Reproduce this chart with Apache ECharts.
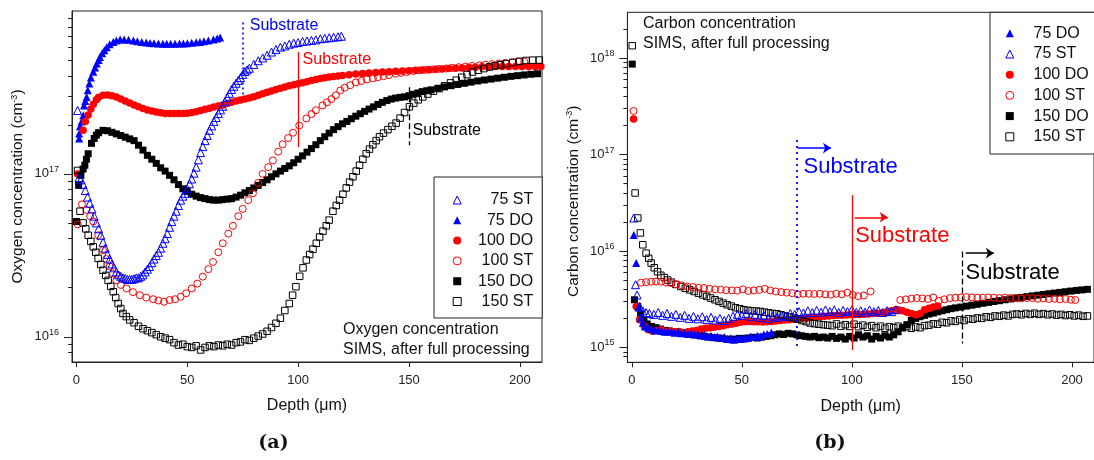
<!DOCTYPE html>
<html><head><meta charset="utf-8">
<script src="https://cdn.jsdelivr.net/npm/echarts@6/dist/echarts.min.js"></script>
<style>html,body{margin:0;padding:0;background:#fff}#c{width:1094px;height:460px}</style>
</head><body><div id="c"></div>
<script>
// ---------- tick values ----------
const xTicks = [0, 50, 100, 150, 200];
const yMajorA = [1e16, 1e17, 1e18];
const yMinorA = [8e15, 9e15, 2e16, 3e16, 4e16, 5e16, 6e16, 7e16, 8e16, 9e16, 2e17, 3e17, 4e17, 5e17, 6e17, 7e17, 8e17, 9e17];
const yMajorB = [1e15, 1e16, 1e17, 1e18];
const yMinorB = [8e14, 9e14, 2e15, 3e15, 4e15, 5e15, 6e15, 7e15, 8e15, 9e15, 2e16, 3e16, 4e16, 5e16, 6e16, 7e16, 8e16, 9e16, 2e17, 3e17, 4e17, 5e17, 6e17, 7e17, 8e17, 9e17, 2e18];
const legendA = ['75 ST', '75 DO', '100 DO', '100 ST', '150 DO', '150 ST'];
const legendB = ['75 DO', '75 ST', '100 DO', '100 ST', '150 DO', '150 ST'];

// ---------- (a) Oxygen: [depth um, concentration cm^-3] ----------
const oxy75DO = [[1.2,1.65e17],[1.2,1.77e17],[1.6,1.96e17],[2.3,2.1e17],[3.1,2.29e17],[3.4,2.63e17],[4,2.8e17],[4.6,2.97e17],[5.1,3.26e17],[5.8,3.59e17],[6.5,3.9e17],[7.6,4.23e17],[8.4,4.5e17],[9.2,4.76e17],[10,5.0e17],[10.6,5.22e17],[11.6,5.5e17],[12.6,5.75e17],[13.7,6.0e17],[15,6.25e17],[16.6,6.46e17],[18,6.58e17],[19.7,6.68e17],[21.5,6.68e17],[23.5,6.65e17],[25.7,6.6e17],[27.5,6.52e17],[29.5,6.45e17],[31.5,6.4e17],[33.2,6.36e17],[35,6.33e17],[37,6.31e17],[39,6.3e17],[40.7,6.3e17],[42.5,6.3e17],[44.5,6.3e17],[46.5,6.31e17],[48.2,6.32e17],[50,6.35e17],[52,6.38e17],[54,6.42e17],[55.7,6.46e17],[57.5,6.52e17],[59.5,6.6e17],[61.8,6.68e17],[63.5,6.78e17],[64.8,6.87e17]];
const oxy75ST = [[0.5,2.45e17],[1.2,9.5e16],[2,9.2e16],[3,8.6e16],[4,7.9e16],[5,7.2e16],[6,6.6e16],[7,6.1e16],[8,5.5e16],[9,5.0e16],[10,4.6e16],[11,4.2e16],[12,3.8e16],[13,3.5e16],[14,3.2e16],[15,3.0e16],[16,2.8e16],[17,2.65e16],[18,2.5e16],[19,2.4e16],[20,2.35e16],[21,2.3e16],[22,2.28e16],[23,2.25e16],[24,2.25e16],[25,2.25e16],[26,2.27e16],[27,2.3e16],[28,2.3e16],[29,2.35e16],[30,2.4e16],[31,2.5e16],[32,2.6e16],[33,2.7e16],[34,2.85e16],[35,3.0e16],[36,3.15e16],[37,3.3e16],[38,3.5e16],[39,3.75e16],[40,4.0e16],[41,4.3e16],[42,4.7e16],[43,5.1e16],[44,5.5e16],[45,5.9e16],[46,6.4e16],[47,6.9e16],[48,7.3e16],[49,7.6e16],[50,8.1e16],[51,8.7e16],[52,9.3e16],[53,1.01e17],[54,1.1e17],[55,1.22e17],[56,1.35e17],[57,1.47e17],[58,1.6e17],[59,1.72e17],[60,1.85e17],[61,1.97e17],[62,2.1e17],[63,2.22e17],[64,2.35e17],[65,2.47e17],[66,2.6e17],[67,2.78e17],[68,2.95e17],[69,3.12e17],[70,3.3e17],[71,3.45e17],[72,3.6e17],[73,3.75e17],[74,3.9e17],[75,4.08e17],[76,4.25e17],[77,4.35e17],[78,4.45e17],[80,4.7e17],[82,4.95e17],[84,5.15e17],[86,5.35e17],[88,5.6e17],[90,5.8e17],[92,6.0e17],[94,6.1e17],[96,6.25e17],[98,6.35e17],[100,6.4e17],[102,6.5e17],[104,6.55e17],[106,6.6e17],[108,6.65e17],[110,6.75e17],[112,6.8e17],[114,6.85e17],[116,6.9e17],[118,6.95e17],[119.5,7.0e17]];
const oxy100DO = [[0.5,1.0e17],[3,1.85e17],[4,2.1e17],[5.3,2.3e17],[6.5,2.5e17],[7.6,2.68e17],[9,2.85e17],[10,2.95e17],[12,3.04e17],[14,3.05e17],[16,3.02e17],[18,2.96e17],[20,2.88e17],[22,2.8e17],[24,2.72e17],[26,2.65e17],[28,2.58e17],[30,2.52e17],[32,2.47e17],[34,2.43e17],[36,2.4e17],[38,2.37e17],[40,2.35e17],[42,2.35e17],[44,2.35e17],[46,2.35e17],[48,2.35e17],[50,2.36e17],[52,2.38e17],[54,2.41e17],[56,2.45e17],[58,2.49e17],[60,2.53e17],[62,2.57e17],[64,2.61e17],[66,2.65e17],[68,2.7e17],[70,2.75e17],[72,2.8e17],[74,2.84e17],[76,2.88e17],[78,2.92e17],[80,2.98e17],[82,3.04e17],[84,3.1e17],[86,3.17e17],[88,3.23e17],[90,3.3e17],[92,3.36e17],[94,3.42e17],[96,3.48e17],[98,3.53e17],[100,3.58e17],[102,3.63e17],[104,3.68e17],[106,3.74e17],[108,3.8e17],[110,3.85e17],[112,3.89e17],[114,3.93e17],[116,3.96e17],[118,3.99e17],[120,4.02e17],[123,4.06e17],[126,4.1e17],[129,4.13e17],[132,4.16e17],[135,4.19e17],[138,4.22e17],[141,4.24e17],[144,4.26e17],[147,4.28e17],[150,4.3e17],[153,4.32e17],[156,4.34e17],[159,4.36e17],[162,4.39e17],[165,4.41e17],[168,4.43e17],[171,4.45e17],[174,4.47e17],[177,4.5e17],[180,4.52e17],[183,4.54e17],[186,4.55e17],[189,4.56e17],[192,4.56e17],[195,4.57e17],[198,4.57e17],[201,4.57e17],[204,4.57e17],[207,4.57e17],[209.5,4.57e17]];
const oxy100ST = [[0.6,4.9e16],[2.5,6.5e16],[4.6,6.0e16],[6.2,5.5e16],[7.6,5.1e16],[9.8,4.2e16],[12,3.4e16],[13.5,3.0e16],[15,2.7e16],[16.5,2.45e16],[18,2.22e16],[20,2.08e16],[22.6,1.98e16],[25.5,1.88e16],[28.6,1.8e16],[31.5,1.74e16],[34.6,1.7e16],[37,1.67e16],[39.5,1.64e16],[42,1.68e16],[44.5,1.7e16],[47,1.76e16],[49.5,1.85e16],[52,1.98e16],[54.5,2.12e16],[57,2.34e16],[59.5,2.6e16],[61.6,2.88e16],[64,3.3e16],[66,3.75e16],[68.5,4.3e16],[70.6,4.8e16],[73,5.5e16],[75,6.1e16],[77.5,6.9e16],[79.6,7.6e16],[82,8.8e16],[84,1.0e17],[86.5,1.1e17],[88.6,1.21e17],[91,1.37e17],[93,1.52e17],[95.5,1.66e17],[97.7,1.79e17],[100.5,1.98e17],[103.7,2.19e17],[106,2.33e17],[108,2.46e17],[111,2.63e17],[113,2.75e17],[115,2.88e17],[117,3.04e17],[119,3.25e17],[121,3.38e17],[123.5,3.5e17],[126,3.64e17],[128.5,3.72e17],[131,3.8e17],[133.7,3.86e17],[136,3.92e17],[138.5,3.98e17],[141,4.04e17],[144,4.12e17],[146.5,4.17e17],[149,4.22e17],[152,4.28e17],[154.7,4.32e17],[157.5,4.35e17],[160.5,4.38e17],[163.5,4.41e17],[166.8,4.44e17],[169.5,4.48e17],[172.5,4.52e17],[175.5,4.56e17],[178.5,4.6e17],[181.8,4.64e17],[184.5,4.68e17],[187.5,4.72e17],[190.5,4.76e17],[193.5,4.8e17],[196.8,4.85e17],[199.5,4.88e17],[202,4.9e17]];
const oxy150DO = [[0,5.1e16],[1,8.5e16],[2,9.8e16],[3,1.07e17],[3.8,1.13e17],[4.5,1.23e17],[5.3,1.33e17],[6.8,1.54e17],[8,1.65e17],[9,1.73e17],[10,1.79e17],[12,1.85e17],[14,1.84e17],[16,1.8e17],[18,1.76e17],[20,1.72e17],[22,1.68e17],[24,1.64e17],[26,1.6e17],[28,1.5e17],[30,1.4e17],[32,1.3e17],[34,1.23e17],[36,1.16e17],[38,1.09e17],[40,1.04e17],[42,9.8e16],[44,9.2e16],[46,8.6e16],[48,8.1e16],[50,7.8e16],[52,7.5e16],[54,7.3e16],[56,7.15e16],[58,7.05e16],[60,6.95e16],[62,6.9e16],[64,6.9e16],[66,6.95e16],[68,7.0e16],[70,7.05e16],[72,7.2e16],[74,7.4e16],[76,7.65e16],[78,7.9e16],[80,8.2e16],[82,8.5e16],[84,8.85e16],[86,9.2e16],[88,9.6e16],[90,1.0e17],[92,1.04e17],[94,1.08e17],[96,1.12e17],[98,1.17e17],[100,1.23e17],[102,1.29e17],[104,1.36e17],[106,1.43e17],[108,1.51e17],[110,1.6e17],[112,1.69e17],[114,1.78e17],[116,1.87e17],[118,1.95e17],[120,2.03e17],[122,2.1e17],[124,2.18e17],[126,2.26e17],[128,2.34e17],[130,2.42e17],[132,2.5e17],[134,2.58e17],[136,2.67e17],[138,2.75e17],[140,2.82e17],[142,2.88e17],[144,2.92e17],[146,2.95e17],[148,2.97e17],[150,3.02e17],[152,3.08e17],[154,3.14e17],[156,3.2e17],[158,3.24e17],[160,3.28e17],[163,3.35e17],[166,3.42e17],[169,3.48e17],[172,3.54e17],[175,3.6e17],[178,3.66e17],[181,3.72e17],[184,3.77e17],[187,3.82e17],[190,3.87e17],[193,3.92e17],[196,3.97e17],[199,4.01e17],[202,4.05e17],[205,4.09e17],[208,4.12e17]];
const oxy150ST = [[0.5,1.05e17],[1.6,5.9e16],[3,5.0e16],[4.2,4.6e16],[5.3,4.2e16],[6.5,3.85e16],[7.6,3.57e16],[8.7,3.3e16],[9.8,3.03e16],[11,2.78e16],[12,2.56e16],[13.2,2.38e16],[14.3,2.22e16],[15.5,2.04e16],[16.6,1.89e16],[17.7,1.74e16],[18.8,1.6e16],[20,1.49e16],[21,1.39e16],[22.5,1.33e16],[24,1.27e16],[26,1.22e16],[28,1.16e16],[30,1.12e16],[32,1.09e16],[34,1.06e16],[36,1.03e16],[38,1.0e16],[40,9.8e15],[42,9.6e15],[44,9.2e15],[46,8.9e15],[48,9.0e15],[50,8.7e15],[52,8.6e15],[54,8.8e15],[56,8.3e15],[58,8.6e15],[60,8.8e15],[62,8.7e15],[64,8.9e15],[66,8.8e15],[68,9.0e15],[70,8.9e15],[72,9.2e15],[74,9.3e15],[76,9.6e15],[78,9.5e15],[80,9.8e15],[82,1.01e16],[84,1.04e16],[86,1.08e16],[88,1.14e16],[90,1.21e16],[92,1.3e16],[94,1.45e16],[96,1.6e16],[97.5,1.8e16],[99,2.03e16],[100.7,2.35e16],[102.2,2.65e16],[103.7,2.96e16],[105.2,3.2e16],[106.7,3.45e16],[108.2,3.75e16],[109.7,4.1e16],[111.2,4.45e16],[112.7,4.8e16],[114,5.2e16],[115.7,5.9e16],[117.2,6.4e16],[118.7,6.9e16],[120.2,7.5e16],[121.7,8.2e16],[123.2,8.9e16],[124.7,9.6e16],[126.2,1.04e17],[127.7,1.13e17],[129.2,1.23e17],[130.7,1.33e17],[132.2,1.42e17],[133.7,1.51e17],[135.2,1.6e17],[136.7,1.69e17],[138.5,1.78e17],[140.5,1.87e17],[142.3,1.96e17],[144.2,2.05e17],[146,2.2e17],[148,2.38e17],[150.2,2.58e17],[152.2,2.72e17],[154.2,2.85e17],[156.2,2.97e17],[158.5,3.09e17],[161,3.22e17],[163.7,3.34e17],[166,3.47e17],[168.7,3.62e17],[171.3,3.76e17],[173.8,3.92e17],[176.2,4.07e17],[178.7,4.22e17],[181.2,4.33e17],[183.8,4.43e17],[186.3,4.53e17],[188.8,4.61e17],[191.3,4.68e17],[193.8,4.75e17],[196.8,4.83e17],[199.8,4.91e17],[202.8,4.97e17],[205.8,4.99e17],[208.8,5.0e17]];

// ---------- (b) Carbon: [depth um, concentration cm^-3] ----------
const car75DO = [[0.9,1.47e16],[2,7.5e15],[3,2.6e15],[4,2.0e15],[5,1.8e15],[6,1.65e15],[7.5,1.6e15],[9,1.55e15],[10.5,1.5e15],[12,1.52e15],[13.5,1.48e15],[15,1.45e15],[16.5,1.47e15],[18,1.45e15],[19.5,1.42e15],[21,1.44e15],[22.5,1.4e15],[24,1.42e15],[25.5,1.38e15],[27,1.4e15],[28.5,1.36e15],[30,1.38e15],[31.5,1.33e15],[33,1.35e15],[34.5,1.3e15],[36,1.32e15],[37.5,1.28e15],[39,1.3e15],[40.5,1.26e15],[42,1.28e15],[43.5,1.22e15],[45,1.25e15],[46.5,1.2e15],[48,1.24e15],[49.5,1.22e15],[51,1.26e15],[52.5,1.25e15],[54,1.3e15],[55.5,1.28e15],[57,1.32e15],[58.5,1.3e15],[60,1.36e15],[61.5,1.38e15],[63.4,1.43e15]];
const car75ST = [[0.9,2.2e16],[1.7,4.47e15],[2.4,3.5e15],[3.5,2.66e15],[5,2.4e15],[6.5,2.3e15],[8,2.25e15],[10,2.2e15],[12,2.3e15],[14,2.15e15],[16,2.25e15],[18,2.1e15],[20,2.2e15],[22,2.05e15],[24,2.15e15],[26,2.0e15],[28,2.1e15],[30,1.98e15],[32,2.08e15],[34,1.95e15],[36,2.05e15],[38,1.92e15],[40,2.0e15],[42,1.9e15],[44,2.0e15],[46,2.1e15],[48,2.2e15],[50,2.15e15],[52,2.25e15],[54,2.1e15],[56,2.2e15],[58,2.05e15],[60,2.15e15],[62,2.0e15],[64,2.1e15],[66,2.05e15],[68,2.15e15],[70,2.1e15],[72,2.25e15],[74,2.2e15],[76,2.35e15],[78,2.28e15],[80,2.4e15],[82,2.3e15],[84,2.42e15],[86,2.32e15],[88,2.45e15],[90,2.35e15],[92,2.45e15],[94,2.3e15],[96,2.42e15],[98,2.35e15],[100,2.45e15],[102,2.3e15],[104,2.4e15],[106,2.32e15],[108,2.45e15],[110,2.35e15],[112,2.42e15],[114,2.3e15],[116,2.4e15],[118,2.35e15],[120,2.46e15]];
const car100DO = [[0.8,2.35e17],[2,2.66e15],[3.5,1.94e15],[5.7,1.65e15],[7.5,1.52e15],[9.5,1.47e15],[11.5,1.5e15],[13.5,1.52e15],[15.5,1.45e15],[17.5,1.48e15],[19.5,1.44e15],[21.5,1.46e15],[23.5,1.42e15],[25.5,1.45e15],[27.5,1.48e15],[29.5,1.5e15],[31.5,1.55e15],[33.5,1.58e15],[35.5,1.6e15],[37.5,1.62e15],[39.5,1.65e15],[41.5,1.68e15],[43.5,1.72e15],[45.5,1.75e15],[47.5,1.78e15],[49.5,1.82e15],[51.5,1.85e15],[53.5,1.86e15],[55.5,1.85e15],[57.5,1.84e15],[59.5,1.83e15],[61.5,1.85e15],[63.5,1.86e15],[65.5,1.88e15],[67.5,1.9e15],[69.5,1.92e15],[71.5,1.94e15],[73.5,1.96e15],[75.5,1.98e15],[77.5,2.0e15],[79.5,2.02e15],[81.5,2.04e15],[83.5,2.06e15],[85.5,2.08e15],[87.5,2.1e15],[89.5,2.12e15],[91.5,2.14e15],[93.5,2.15e15],[95.5,2.16e15],[97.5,2.17e15],[99.5,2.18e15],[101.5,2.19e15],[103.5,2.2e15],[105.5,2.21e15],[107.5,2.22e15],[109.5,2.24e15],[111.5,2.26e15],[113.5,2.28e15],[115.5,2.32e15],[117.5,2.38e15],[119.5,2.44e15],[121,2.46e15],[123,2.4e15],[125,2.32e15],[127,2.25e15],[129,2.18e15],[131,2.25e15],[133,2.45e15],[135,2.55e15],[137,2.62e15],[139,2.68e15]];
const car100ST = [[0.8,2.84e17],[4.2,4.7e15],[6.5,4.75e15],[8.8,4.8e15],[11,4.82e15],[13.3,4.8e15],[15.5,4.72e15],[17.8,4.65e15],[20,4.52e15],[22.5,4.4e15],[25.3,4.28e15],[27.8,4.22e15],[30.3,4.15e15],[32.8,4.13e15],[35.3,4.05e15],[37.8,4.0e15],[40.4,3.97e15],[42.9,3.92e15],[45.4,3.9e15],[47.9,3.88e15],[50.4,4.0e15],[52.9,3.85e15],[55.4,3.9e15],[57.9,3.95e15],[60.4,4.05e15],[62.9,3.9e15],[65.4,3.8e15],[67.9,3.75e15],[70.4,3.7e15],[72.9,3.65e15],[75.4,3.55e15],[77.9,3.6e15],[80.4,3.6e15],[82.9,3.58e15],[85.4,3.6e15],[87.9,3.55e15],[90.4,3.52e15],[92.9,3.6e15],[95.4,3.55e15],[97.9,3.7e15],[100.4,3.5e15],[102.9,3.4e15],[105.4,3.45e15],[108.5,3.8e15],[122,3.1e15],[124.5,3.15e15],[127,3.2e15],[129.5,3.25e15],[132,3.22e15],[134.5,3.18e15],[137,3.3e15],[139.5,3.05e15],[142,3.15e15],[144.5,3.25e15],[147,3.28e15],[149.5,3.3e15],[152,3.33e15],[154.5,3.3e15],[157,3.28e15],[159.5,3.28e15],[162,3.3e15],[164.5,3.27e15],[167,3.25e15],[169.5,3.28e15],[172,3.25e15],[174.5,3.27e15],[177,3.22e15],[179.5,3.25e15],[182,3.25e15],[184.5,3.2e15],[187,3.22e15],[189.5,3.18e15],[192,3.2e15],[194.5,3.15e15],[197,3.18e15],[199.5,3.12e15],[201.5,3.1e15]];
const car150DO = [[0.2,8.7e17],[1.2,3.12e15],[2.7,2.66e15],[4,2.2e15],[5.5,1.9e15],[7,1.75e15],[9,1.65e15],[11,1.6e15],[13,1.55e15],[15,1.5e15],[17,1.48e15],[19,1.45e15],[21,1.42e15],[23,1.4e15],[25,1.38e15],[27,1.36e15],[29,1.35e15],[31,1.33e15],[33,1.3e15],[35,1.28e15],[37,1.26e15],[39,1.25e15],[41,1.24e15],[43,1.22e15],[45,1.2e15],[47,1.22e15],[49,1.24e15],[51,1.22e15],[53,1.25e15],[55,1.27e15],[57,1.25e15],[59,1.28e15],[61,1.3e15],[63,1.32e15],[65,1.35e15],[67,1.38e15],[69,1.36e15],[71,1.4e15],[73,1.38e15],[75,1.35e15],[77,1.32e15],[79,1.3e15],[81,1.28e15],[83,1.3e15],[85,1.26e15],[87,1.28e15],[89,1.25e15],[91,1.3e15],[93,1.24e15],[95,1.28e15],[97,1.22e15],[99,1.3e15],[101,1.25e15],[103,1.35e15],[105,1.28e15],[107,1.32e15],[109,1.22e15],[111,1.3e15],[113,1.25e15],[115,1.32e15],[117,1.28e15],[119,1.35e15],[121,1.45e15],[123,1.6e15],[125,1.72e15],[127,1.9e15],[129,2.0e15],[131,2.08e15],[133,2.15e15],[135,2.22e15],[137,2.27e15],[139,2.34e15],[141,2.4e15],[143,2.46e15],[145,2.52e15],[147,2.57e15],[149.5,2.62e15],[152,2.68e15],[154.5,2.74e15],[157,2.8e15],[159.5,2.87e15],[162,2.93e15],[164.5,2.99e15],[167,3.05e15],[169.5,3.12e15],[172,3.18e15],[174.5,3.24e15],[177,3.3e15],[179.5,3.36e15],[182,3.42e15],[184.5,3.48e15],[187,3.54e15],[189.5,3.6e15],[192,3.66e15],[194.5,3.72e15],[197,3.78e15],[199.5,3.84e15],[202,3.9e15],[204.5,3.95e15],[207,4.0e15]];
const car150ST = [[0.2,1.35e18],[1.5,4.0e16],[2.7,2.2e16],[3.9,1.54e16],[5,1.16e16],[6.5,9.5e15],[7.7,8.4e15],[8.8,7.5e15],[10.2,6.7e15],[11.7,6.1e15],[13.2,5.6e15],[14.8,5.3e15],[16.3,5.0e15],[18,4.75e15],[20,4.5e15],[22.3,4.28e15],[24.3,4.1e15],[26.3,3.95e15],[28.3,3.8e15],[30.3,3.65e15],[32.3,3.5e15],[34,3.38e15],[35.8,3.25e15],[37.8,3.12e15],[39.6,3.0e15],[41.5,2.88e15],[43.3,2.77e15],[45.2,2.68e15],[47.1,2.58e15],[49,2.52e15],[50.9,2.46e15],[52.8,2.42e15],[54.7,2.4e15],[56.6,2.38e15],[58.4,2.36e15],[60.3,2.32e15],[62.2,2.28e15],[64,2.25e15],[65.9,2.23e15],[67.8,2.18e15],[69.7,2.12e15],[71.6,2.07e15],[73.5,2.02e15],[75.4,1.96e15],[77.3,1.9e15],[79.2,1.85e15],[81,1.79e15],[83,1.76e15],[85,1.74e15],[87,1.72e15],[89,1.7e15],[91,1.68e15],[93,1.75e15],[95,1.66e15],[97,1.72e15],[99,1.65e15],[101,1.74e15],[103,1.64e15],[105,1.7e15],[107,1.62e15],[109,1.68e15],[111,1.6e15],[113,1.66e15],[115,1.58e15],[117,1.64e15],[119,1.6e15],[121,1.66e15],[123,1.6e15],[125,1.64e15],[127,1.58e15],[129,1.63e15],[131,1.6e15],[133,1.68e15],[135,1.7e15],[137,1.76e15],[139,1.74e15],[141,1.82e15],[143,1.8e15],[145,1.88e15],[147,1.86e15],[149,1.94e15],[151,1.9e15],[153,1.98e15],[155,1.96e15],[157,2.02e15],[159,2.0e15],[161,2.08e15],[163,2.05e15],[165,2.12e15],[167,2.1e15],[169,2.16e15],[171,2.12e15],[173,2.2e15],[175,2.22e15],[177,2.18e15],[179,2.25e15],[181,2.2e15],[183,2.26e15],[185,2.2e15],[187,2.24e15],[189,2.18e15],[191,2.22e15],[193,2.16e15],[195,2.2e15],[197,2.14e15],[199,2.18e15],[201,2.12e15],[203,2.16e15],[205,2.1e15],[207,2.12e15]];

// ---------- annotation anchors (data coordinates) ----------
const subLinesA = [[75, 8.5e17, 2.95e17], [100, 5.6e17, 1.46e17], [150, 3.4e17, 1.5e17]];
const subTextA = [[78.2, 8.17e17], [102, 5.06e17], [151.6, 1.85e17]];
const subLinesB = [[75, 1.42e17, 9.4e14], [100, 3.8e16, 9.4e14], [150, 9.9e15, 1.1e15]];
const subArrowsB = [[75.3, 90.5, 1.17e17], [101.3, 116.3, 2.24e16], [151.7, 164.5, 9.5e15]];
const subTextB = [[78, 7.47e16], [101.5, 1.44e16], [151.6, 5.94e15]];

const FONT = '"Liberation Sans", Arial, Helvetica, sans-serif';
const BLUE = '#0000ff', RED = '#ff0000', BLACK = '#000000', AX = '#222';
const COLORS = [BLUE, RED, BLACK];
const STYLES = [{type: [2, 3], width: 1.6}, {type: 'solid', width: 1.3}, {type: [6, 3], width: 1.3}];

function sc(name, data, g, sym, color, filled, size, z) {
  return {
    name, type: 'scatter', xAxisIndex: g, yAxisIndex: g * 2, data,
    symbol: sym, symbolSize: size, z: z, silent: true, animation: false,
    itemStyle: filled ? {color: color, borderWidth: 0, opacity: 1}
                      : {color: 'rgba(255,255,255,0)', borderColor: color, borderWidth: 1, opacity: 1},
    emphasis: {disabled: true}
  };
}
const supLabel = v => '{b|10}{s|' + Math.round(Math.log10(v)) + '}';
const supRich = {
  b: {fontSize: 13, fontFamily: FONT, color: AX, lineHeight: 18},
  s: {fontSize: 9, fontFamily: FONT, color: AX, verticalAlign: 'top', lineHeight: 9}
};
function xAx(g) {
  return {type: 'value', gridIndex: g, min: -2, max: 210,
    axisLine: {show: true, onZero: false, lineStyle: {color: AX, width: 1}},
    axisTick: {show: true, customValues: xTicks, length: 5, lineStyle: {color: AX}},
    axisLabel: {customValues: xTicks, fontSize: 13, fontFamily: FONT, color: AX, margin: 12},
    splitLine: {show: false},
    name: 'Depth (\u03bcm)', nameLocation: 'middle', nameGap: 36,
    nameTextStyle: {fontSize: 16, fontFamily: FONT, color: '#111'}};
}
function yAx(g, min, max, major, title, pad) {
  return {type: 'log', logBase: 10, gridIndex: g, min, max, position: 'left',
    axisLine: {show: true, onZero: false, lineStyle: {color: AX, width: 1}},
    axisTick: {show: true, customValues: major, length: 8, lineStyle: {color: AX}},
    axisLabel: {customValues: major, formatter: supLabel, rich: supRich, margin: 13},
    splitLine: {show: false}, minorTick: {show: false},
    name: '{a|' + title + ' (cm}{s|-3}{a|)}', nameLocation: 'middle', nameGap: 46,
    nameTextStyle: {padding: pad, rich: {
      a: {fontSize: 15.5, fontFamily: FONT, color: '#111'},
      s: {fontSize: 9, fontFamily: FONT, color: '#111', verticalAlign: 'top', lineHeight: 9}}}};
}
function yMin(g, min, max, minor) {
  return {type: 'log', logBase: 10, gridIndex: g, min, max, position: 'left',
    axisLine: {show: false, onZero: false}, axisLabel: {show: false}, splitLine: {show: false},
    axisTick: {show: true, customValues: minor, length: 4, lineStyle: {color: AX}}};
}

const seriesA = [
  sc('75 DO', oxy75DO, 0, 'triangle', BLUE, true, 8, 2),
  sc('100 DO', oxy100DO, 0, 'circle', RED, true, 7.5, 2),
  sc('150 DO', oxy150DO, 0, 'rect', BLACK, true, 7, 2),
  sc('100 ST', oxy100ST, 0, 'circle', RED, false, 7, 3),
  sc('75 ST', oxy75ST, 0, 'triangle', BLUE, false, 8, 3),
  sc('150 ST', oxy150ST, 0, 'rect', BLACK, false, 6.5, 3)
];
const seriesB = [
  sc('150 DO', car150DO, 1, 'rect', BLACK, true, 7, 2),
  sc('100 DO', car100DO, 1, 'circle', RED, true, 7.5, 2),
  sc('75 DO', car75DO, 1, 'triangle', BLUE, true, 8, 2),
  sc('150 ST', car150ST, 1, 'rect', BLACK, false, 6.5, 3),
  sc('100 ST', car100ST, 1, 'circle', RED, false, 7, 3),
  sc('75 ST', car75ST, 1, 'triangle', BLUE, false, 8, 3)
];
// annotations (a)
seriesA[0].markLine = {silent: true, animation: false, symbol: ['none', 'none'], label: {show: false},
  data: subLinesA.map((l, i) => [{coord: [l[0], l[1]], lineStyle: Object.assign({color: COLORS[i]}, STYLES[i])}, {coord: [l[0], l[2]]}])};
seriesA[0].markPoint = {silent: true, animation: false, symbol: 'circle', symbolSize: 0,
  data: subTextA.map((p, i) => ({coord: p, label: {show: true, position: 'right', distance: 0, formatter: 'Substrate',
    color: COLORS[i], fontSize: 16, fontFamily: FONT}}))};
// annotations (b)
const linesB = subLinesB.map((l, i) => [{coord: [l[0], l[1]], lineStyle: Object.assign({color: COLORS[i]}, STYLES[i], i === 0 ? {width: 1.8, type: [2, 4]} : {})}, {coord: [l[0], l[2]]}]);
const arrowsB = subArrowsB.map((a, i) => [{coord: [a[0], a[2]], symbol: 'none', lineStyle: {color: COLORS[i], width: 1.5, type: 'solid'}}, {coord: [a[1], a[2]], symbol: 'arrow', symbolSize: 8}]);
seriesB[0].markLine = {silent: true, animation: false, symbol: ['none', 'none'], label: {show: false}, data: linesB.concat(arrowsB)};
seriesB[0].markPoint = {silent: true, animation: false, symbol: 'circle', symbolSize: 0,
  data: subTextB.map((p, i) => ({coord: p, label: {show: true, position: 'right', distance: 0, formatter: 'Substrate',
    color: COLORS[i], fontSize: 22, fontFamily: FONT}}))};

const chart = echarts.init(document.getElementById('c'), null, {renderer: 'canvas'});
chart.setOption({
  animation: false,
  backgroundColor: '#fff',
  grid: [
    {left: 72, top: 11, width: 470, height: 351, show: true, borderColor: AX, borderWidth: 1, backgroundColor: 'transparent'},
    {left: 627.4, top: 12.3, width: 470, height: 350, show: true, borderColor: AX, borderWidth: 1, backgroundColor: 'transparent'}
  ],
  xAxis: [xAx(0), xAx(1)],
  yAxis: [
    yAx(0, 7e15, 1e18, yMajorA, 'Oxygen concentration', [0, 0, 0, 0]),
    yMin(0, 7e15, 1e18, yMinorA),
    yAx(1, 7e14, 3e18, yMajorB, 'Carbon concentration', [0, 28, 0, 0]),
    yMin(1, 7e14, 3e18, yMinorB)
  ],
  legend: [
    {orient: 'vertical', left: 434, top: 177, data: legendA, itemWidth: 8, itemHeight: 8, itemGap: 4.3,
     padding: [15, 9, 8.5, 18.7], borderColor: AX, borderWidth: 1, backgroundColor: '#fff', selectedMode: false,
     itemStyle: {borderWidth: 1}, formatter: n => '{r|' + n + '}',
     textStyle: {fontSize: 16, fontFamily: FONT, color: '#111',
       rich: {r: {width: 67, align: 'right', fontSize: 16, fontFamily: FONT, color: '#111'}}}},
    {orient: 'vertical', left: 990, top: 12.3, data: legendB, itemWidth: 8, itemHeight: 8, itemGap: 4.7,
     padding: [13, 10, 9.2, 15.3], borderColor: AX, borderWidth: 1, backgroundColor: '#fff', selectedMode: false,
     itemStyle: {borderWidth: 1}, formatter: n => '{r|' + n + '}',
     textStyle: {fontSize: 16, fontFamily: FONT, color: '#111',
       rich: {r: {padding: [0, 0, 0, 14.7], fontSize: 16, fontFamily: FONT, color: '#111'}}}}
  ],
  graphic: [
    {type: 'text', left: 343, top: 320, silent: true, style: {text: 'Oxygen concentration\nSIMS, after full processing', font: '16px ' + FONT, fill: '#111', lineHeight: 20}},
    {type: 'text', left: 643, top: 13.3, silent: true, style: {text: 'Carbon concentration\nSIMS, after full processing', font: '16px ' + FONT, fill: '#111', lineHeight: 20}},
    {type: 'text', x: 273.5, y: 443, silent: true, style: {text: '(a)', font: 'bold 19px "DejaVu Serif", serif', fill: '#111', align: 'center', verticalAlign: 'middle'}},
    {type: 'text', x: 830, y: 443, silent: true, style: {text: '(b)', font: 'bold 19px "DejaVu Serif", serif', fill: '#111', align: 'center', verticalAlign: 'middle'}}
  ],
  series: seriesA.concat(seriesB)
});
</script></body></html>
